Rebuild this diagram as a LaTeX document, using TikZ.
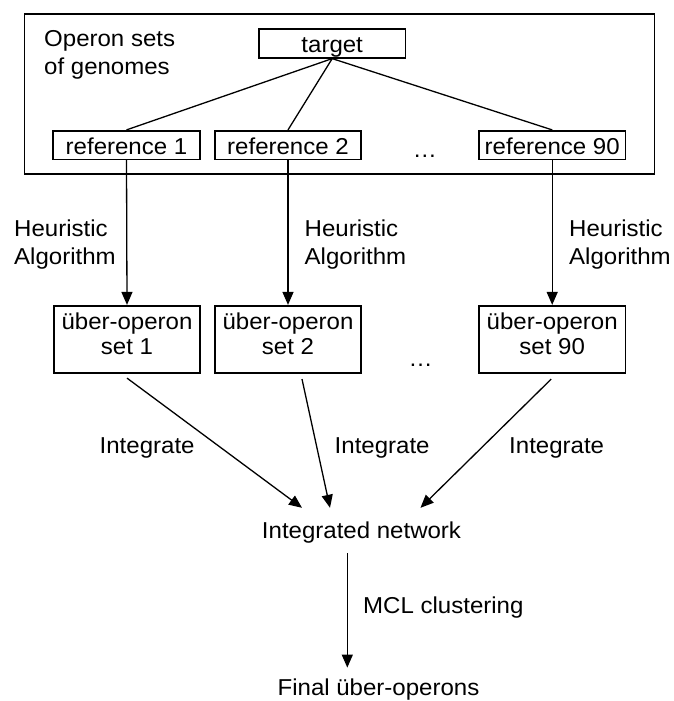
\documentclass[tikz,border=0pt]{standalone}
\usepackage{fontspec}
\setmainfont{Liberation Sans}[FakeStretch=1.045]
\usetikzlibrary{arrows.meta,calc}
\begin{document}
\begin{tikzpicture}[x=1pt,y=-1pt,
  every node/.style={font=\fontsize{23}{27}\selectfont, inner sep=0pt},
  box/.style={draw, line width=1.6pt, minimum width=146.5pt, minimum height=28.6pt, text height=20pt, text depth=1.4pt},
  ubox/.style={draw, line width=1.6pt, minimum width=146.5pt, minimum height=67pt, align=center, font=\fontsize{23}{25}\selectfont},
  lab/.style={align=left, anchor=north west, font=\fontsize{23}{28}\selectfont},
  flow/.style={text height=17pt, text depth=2pt, inner ysep=13pt},
  conn/.style={line width=1.3pt},
  arr/.style={line width=1.3pt, -{Triangle[length=13pt,width=11pt]}},
]
\useasboundingbox (0,0) rectangle (673,701);

% outer frame
\node[draw, line width=1.6pt, minimum width=629.9pt, minimum height=160pt] (outer) at (339.55,94) {};
\node[lab, font=\fontsize{23}{27.8}\selectfont] (opset) at (44,29.7) {\rule{0pt}{17pt}Operon sets\\of genomes};

% target and references
\node[box] (target) at (332.2,43.5) {target};
\node[box] (ref1) at (126.5,145) {reference 1};
\node[box] (ref2) at (288,145) {reference 2};
\node[box] (ref90) at (552.2,145) {reference 90};
\node[anchor=base] (dots1) at (425,157) {\ldots};

\draw[conn] (target.south) -- (ref1.north);
\draw[conn] (target.south) -- (ref2.north);
\draw[conn] (target.south) -- (ref90.north);

% uber-operon sets
\node[ubox] (u1) at (127,339.2) {\rule{0pt}{17pt}über-operon\\set 1\rule[-11.8pt]{0pt}{11.8pt}};
\node[ubox] (u2) at (288,339.2) {\rule{0pt}{17pt}über-operon\\set 2\rule[-11.8pt]{0pt}{11.8pt}};
\node[ubox] (u90) at (552.2,339.2) {\rule{0pt}{17pt}über-operon\\set 90\rule[-11.8pt]{0pt}{11.8pt}};
\node[anchor=base] (dots2) at (420.6,366) {\ldots};

\draw[arr] (ref1.south) -- (u1.north);
\draw[arr] (ref2.south) -- (u2.north);
\draw[arr] (ref90.south) -- (u90.north);

\node[lab] (h1) at (14,219) {\rule{0pt}{17pt}Heuristic\\Algorithm};
\node[lab] (h2) at (304.5,219) {\rule{0pt}{17pt}Heuristic\\Algorithm};
\node[lab] (h3) at (569,219) {\rule{0pt}{17pt}Heuristic\\Algorithm};

% integration
\node[flow] (net) at (361.5,530.5) {Integrated network};
\coordinate (s1) at ($(u1.south)+(0,4.6)$);
\coordinate (s2) at ($(u2.south)+(14,5.6)$);
\coordinate (s3) at ($(u90.south)+(-1,5.6)$);
\coordinate (e1) at ($(net.north)+(-59.5,0)$);
\coordinate (e2) at ($(net.north)+(-31.5,0)$);
\coordinate (e3) at ($(net.north)+(59,0)$);
\draw[arr] (s1) -- (e1);
\draw[arr] (s2) -- (e2);
\draw[arr] (s3) -- (e3);

\node[anchor=base west] (i1) at (99.5,453) {Integrate};
\node[anchor=base west] (i2) at (334.5,453) {Integrate};
\node[anchor=base west] (i3) at (509,453) {Integrate};

% clustering
\node[flow, inner ysep=11pt] (fin) at (378.5,688.3) {Final über-operons};
\coordinate (m1) at ($(net.south)+(-14.2,0)$);
\coordinate (m2) at ($(fin.north)+(-31.2,0)$);
\draw[arr] (m1) -- (m2);
\node[anchor=base west] (mcl) at (363,613.3) {MCL clustering};
\end{tikzpicture}
\end{document}
